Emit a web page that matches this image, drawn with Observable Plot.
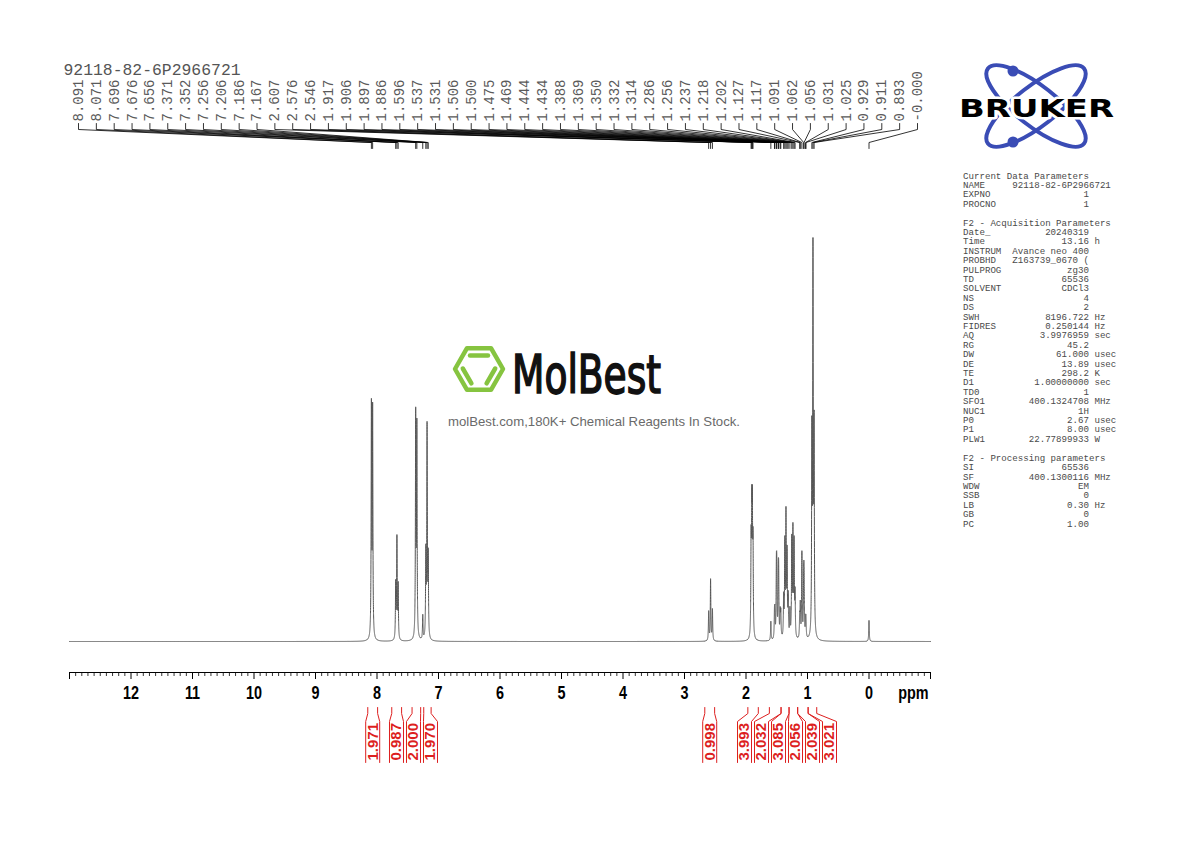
<!DOCTYPE html>
<html><head><meta charset="utf-8">
<script src="https://cdn.jsdelivr.net/npm/d3@7"></script>
<script src="https://cdn.jsdelivr.net/npm/@observablehq/plot@0.6"></script>
<style>
body{margin:0;background:#fff;}
#wrap{position:relative;width:1190px;height:842px;overflow:hidden;background:#fff;}
#chart{position:absolute;left:0;top:0;}
.overlay{position:absolute;left:0;top:0;pointer-events:none;}
#params{position:absolute;left:963px;top:171.5px;margin:0;font-family:"Liberation Mono","DejaVu Sans Mono",monospace;font-size:9.13px;line-height:9.4px;color:#4a4a4a;white-space:pre;}
</style></head>
<body>
<div id="wrap">
<div id="chart"></div>
<svg class="overlay" width="1190" height="842">
  <!-- Bruker logo -->
  <g fill="none" stroke="#3a4cb5" stroke-width="4">
    <ellipse cx="1036" cy="106" rx="61" ry="20" transform="rotate(38 1036 106)"/>
    <ellipse cx="1036" cy="106" rx="61" ry="20" transform="rotate(-38 1036 106)"/>
  </g>
  <circle cx="1013" cy="71" r="5.5" fill="#3a4cb5"/>
  <circle cx="1013" cy="142" r="5.5" fill="#3a4cb5"/>
  <text x="959" y="117" font-family="DejaVu Sans" font-weight="bold" font-size="25" textLength="155" lengthAdjust="spacingAndGlyphs" fill="#000" stroke="#fff" stroke-width="5" paint-order="stroke" stroke-linejoin="round">BRUKER</text>
  <!-- MolBest watermark -->
  <g fill="none" stroke="#86c440" stroke-width="4.5" stroke-linejoin="round" stroke-linecap="round">
    <polygon points="503,369 491,389.8 467,389.8 455,369 467,348.2 491,348.2"/>
    <line x1="470" y1="355.5" x2="488" y2="355.5"/>
    <line x1="462.8" y1="368.5" x2="471.4" y2="383.3"/>
    <line x1="486.6" y1="383.3" x2="495.2" y2="368.5"/>
  </g>
  <text x="512" y="393" font-family="DejaVu Sans Condensed, DejaVu Sans" font-stretch="condensed" font-size="54" textLength="149" lengthAdjust="spacingAndGlyphs" fill="#111" stroke="#111" stroke-width="1.6">MolBest</text>
  <text x="448" y="426" font-family="Liberation Sans, Arial, sans-serif" font-size="13" textLength="292" lengthAdjust="spacingAndGlyphs" fill="#6a6a6a">molBest.com,180K+ Chemical Reagents In Stock.</text>
</svg>
<pre id="params"></pre>
</div>
<script>
// ---------------- DATA ----------------
const sampleName = "92118-82-6P2966721";

// Peak list labels (ppm) as printed above the spectrum
const peakLabels = ["8.091","8.071","7.696","7.676","7.656","7.371","7.352","7.256","7.206","7.186","7.167",
  "2.607","2.576","2.546","1.917","1.906","1.897","1.886","1.596",
  "1.537","1.531","1.506","1.500","1.475","1.469","1.444","1.434",
  "1.388","1.369","1.350","1.332","1.314","1.286","1.256","1.237","1.218","1.202",
  "1.127","1.117","1.091","1.062","1.056","1.031","1.025","0.929","0.911","0.893","-0.000"];
// Line intensities (arbitrary units) estimated from the drawn peak heights
const peakHeights = [229,225, 55,100,53, 220,208, 24, 83,209,78,
  29,61,31, 88,110,110,86, 19,
  22,22,58,58,53,53,24,24,
  39,92,120,81,39, 27,96,104,92,42,
  20,32,85,52,52,15,15, 194,374,200, 21];

// Integrals
const integralValues = ["1.971","0.987","2.000","1.970","0.998","3.993","2.032","3.085","2.056","2.039","3.021"];
const integralFrom   = [8.15, 7.76, 7.43, 7.24, 2.67, 1.97, 1.62, 1.43, 1.30, 1.16, 0.99];
const integralTo     = [7.99, 7.60, 7.29, 7.12, 2.51, 1.80, 1.43, 1.30, 1.16, 0.99, 0.85];

// Axis
const axisDomain = [13, -1];
const axisTickLabels = [12,11,10,9,8,7,6,5,4,3,2,1,0];
const axisUnit = "ppm";

// Parameter panel
const sectionTitles = ["Current Data Parameters","F2 - Acquisition Parameters","F2 - Processing parameters"];
const curNames = ["NAME","EXPNO","PROCNO"];
const curValues = ["92118-82-6P2966721","1","1"];
const curUnits = ["","",""];
const acqNames = ["Date_","Time","INSTRUM","PROBHD","PULPROG","TD","SOLVENT","NS","DS","SWH","FIDRES","AQ","RG","DW","DE","TE","D1","TD0","SFO1","NUC1","P0","P1","PLW1"];
const acqValues = ["20240319","13.16","Avance neo 400","Z163739_0670 (","zg30","65536","CDCl3","4","2","8196.722","0.250144","3.9976959","45.2","61.000","13.89","298.2","1.00000000","1","400.1324708","1H","2.67","8.00","22.77899933"];
const acqUnits = ["","h","","","","","","","","Hz","Hz","sec","","usec","usec","K","sec","","MHz","","usec","usec","W"];
const procNames = ["SI","SF","WDW","SSB","LB","GB","PC"];
const procValues = ["65536","400.1300116","EM","0","0.30","0","1.00"];
const procUnits = ["","MHz","","","Hz","",""];

// ---------------- LAYOUT ----------------
const W = 1190, H = 842;
const ML = 69, MR = 260, BASE = 641, TOPPEAK = 237, AXIS_Y = 672;
const HWHM = 0.005; // line half-width (ppm)
const peakPpm = peakLabels.map(s => +s);

// spectrum line built from the peak list
const grid = new Set();
for (let i = 0; i <= 2800; i++) grid.add(Math.round((axisDomain[1] + i * 0.005) * 1e4));
for (const p of peakPpm) for (let k = -200; k <= 200; k++) grid.add(Math.round((p + k * 0.0004) * 1e4));
const xs = Array.from(grid).sort((a, b) => a - b).map(v => v / 1e4);
const spectrum = xs.map(x => ({ppm: x, I: d3.sum(peakPpm, (p, i) => peakHeights[i] / (1 + ((x - p) / HWHM) ** 2))}));
const yMax = d3.max(spectrum, d => d.I);

const yAt = px => (BASE - px) * yMax / (BASE - TOPPEAK);
const pxPerPpm = (W - MR - ML) / (axisDomain[0] - axisDomain[1]);
const pxToPpm = px => axisDomain[0] - (px - ML) / pxPerPpm;

// top peak labels evenly spread
const n = peakLabels.length;
const labX = peakLabels.map((s, i) => pxToPpm(78 + i * (917 - 78) / (n - 1)));
const leaders = [];
peakLabels.forEach((s, i) => {
  [[labX[i], 123], [labX[i], 129], [peakPpm[i], 142], [peakPpm[i], 148]].forEach(([x, py]) => leaders.push({x, y: yAt(py), id: i}));
});

// integral labels: spread to avoid overlaps
function spread(centers, gap) {
  const groups = [];
  for (const c of centers) {
    groups.push({sum: c, n: 1});
    while (groups.length > 1) {
      const b = groups[groups.length - 1], a = groups[groups.length - 2];
      const aEnd = a.sum / a.n + (a.n - 1) * gap / 2;
      const bStart = b.sum / b.n - (b.n - 1) * gap / 2;
      if (bStart - aEnd < gap) { a.sum += b.sum; a.n += b.n; groups.pop(); } else break;
    }
  }
  const out = [];
  for (const g of groups) { const m = g.sum / g.n; for (let i = 0; i < g.n; i++) out.push(m + (i - (g.n - 1) / 2) * gap); }
  return out;
}
const intCentersPx = integralValues.map((v, i) => ML + (axisDomain[0] - (integralFrom[i] + integralTo[i]) / 2) * pxPerPpm);
const intLabPx = spread(intCentersPx, 17);
const intLab = intLabPx.map(pxToPpm);
const hw = 7 / pxPerPpm;
const brackets = [];
integralValues.forEach((v, i) => {
  [[integralFrom[i], 707], [integralFrom[i], 713], [intLab[i] + hw, 721], [intLab[i] + hw, 762]].forEach(([x, py]) => brackets.push({x, y: yAt(py), id: "L" + i}));
  [[integralTo[i], 707], [integralTo[i], 713], [intLab[i] - hw, 721], [intLab[i] - hw, 762]].forEach(([x, py]) => brackets.push({x, y: yAt(py), id: "R" + i}));
});

const majorTicks = d3.range(axisDomain[1], axisDomain[0] + 1);
const minorTicks = d3.range(axisDomain[1] * 10, axisDomain[0] * 10 + 1).filter(v => v % 10 !== 0).map(v => v / 10);
const axisFont = "'Liberation Sans Narrow', 'Liberation Sans', Arial, sans-serif";
const monoFont = "'Liberation Mono', 'DejaVu Sans Mono', monospace";
const red = "#dd1f1f";

const chart = Plot.plot({
  width: W, height: H,
  marginLeft: ML, marginRight: MR, marginTop: TOPPEAK, marginBottom: H - AXIS_Y,
  x: {domain: axisDomain, axis: null},
  y: {domain: [0, yMax], range: [BASE, TOPPEAK], axis: null},
  style: {background: "transparent", overflow: "visible"},
  marks: [
    Plot.line(spectrum, {x: "ppm", y: "I", stroke: "#555", strokeWidth: 1}),
    // axis
    Plot.ruleY([yAt(AXIS_Y)], {x1: axisDomain[0], x2: axisDomain[1], stroke: "#000", strokeWidth: 1}),
    Plot.ruleX(majorTicks, {x: d => d, y1: yAt(AXIS_Y), y2: yAt(AXIS_Y + 7), stroke: "#000"}),
    Plot.ruleX(minorTicks, {x: d => d, y1: yAt(AXIS_Y), y2: yAt(AXIS_Y + 4), stroke: "#000", strokeWidth: 0.8}),
    Plot.text(axisTickLabels, {x: d => d, y: yAt(693), text: d => String(d), fontFamily: axisFont, fontWeight: "bold", fontSize: 18, fill: "#000"}),
    Plot.text([axisUnit], {x: pxToPpm(928), y: yAt(693), text: d => d, textAnchor: "end", fontFamily: axisFont, fontWeight: "bold", fontSize: 18, fill: "#000"}),
    // peak labels
    Plot.line(leaders, {x: "x", y: "y", z: "id", stroke: "#000", strokeWidth: 0.8}),
    Plot.text(peakLabels, {x: (d, i) => labX[i], y: yAt(121), text: d => d, rotate: -90, textAnchor: "start", lineAnchor: "middle", fontFamily: monoFont, fontSize: 14, fill: "#5a5a5a"}),
    Plot.text([sampleName], {x: pxToPpm(63), y: yAt(74), text: d => d, textAnchor: "start", lineAnchor: "bottom", fontFamily: monoFont, fontSize: 16.4, fill: "#555"}),
    // integrals
    Plot.line(brackets, {x: "x", y: "y", z: "id", stroke: red, strokeWidth: 1}),
    Plot.text(integralValues, {x: (d, i) => intLab[i], y: yAt(760), text: d => d, rotate: -90, textAnchor: "start", lineAnchor: "middle", fontFamily: axisFont, fontWeight: "bold", fontSize: 15, fill: red})
  ]
});
document.getElementById("chart").appendChild(chart);

// narrow the bold axis lettering horizontally (condensed look)
chart.querySelectorAll('g[font-size="18"] text').forEach(t => {
  let tr = t.getAttribute("transform");
  if (!tr) {
    const x = t.getAttribute("x") || 0, y = t.getAttribute("y") || 0;
    t.removeAttribute("x"); t.removeAttribute("y");
    tr = `translate(${x},${y})`;
  }
  t.setAttribute("transform", tr + " scale(0.8,1)");
});

// parameter panel
function fmt(name, val, unit) {
  const s = val.length > 14 ? name.padEnd(9) + val : name.padEnd(23 - val.length) + val;
  return unit ? s + " " + unit : s;
}
const lines = [sectionTitles[0]];
curNames.forEach((nm, i) => lines.push(fmt(nm, curValues[i], curUnits[i])));
lines.push("", sectionTitles[1]);
acqNames.forEach((nm, i) => lines.push(fmt(nm, acqValues[i], acqUnits[i])));
lines.push("", sectionTitles[2]);
procNames.forEach((nm, i) => lines.push(fmt(nm, procValues[i], procUnits[i])));
document.getElementById("params").textContent = lines.join("\n");
</script>
</body></html>
